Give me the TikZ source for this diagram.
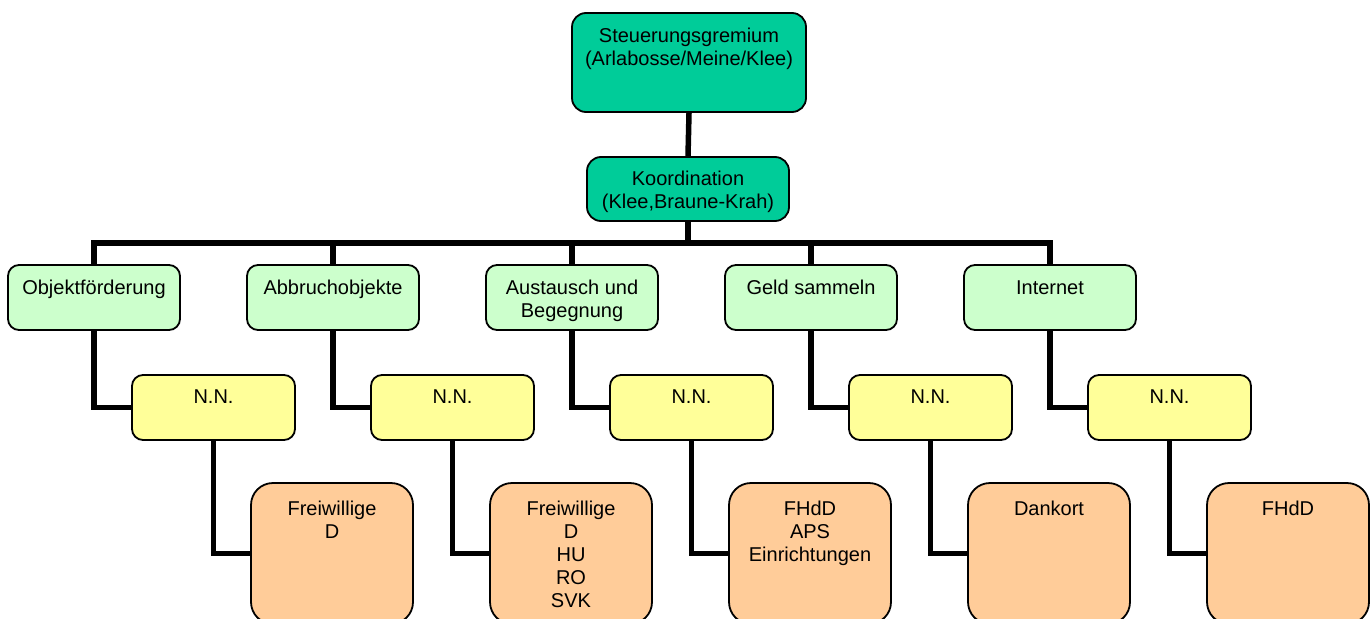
\documentclass[tikz,border=0pt]{standalone}
\usepackage{fontspec}
\setmainfont{Liberation Sans}
\usetikzlibrary{positioning}

\definecolor{leitgruen}{RGB}{0,204,153}
\definecolor{hellgruen}{RGB}{204,255,204}
\definecolor{hellgelb}{RGB}{255,255,153}
\definecolor{hellorange}{RGB}{255,204,153}

\begin{document}
\begin{tikzpicture}[
            x=1pt, y=-1pt,
            leitung/.style={
                rectangle,
                draw=black,
                fill=leitgruen,
                line width=1.8pt,
                rounded corners=14pt
            },
            bereich/.style={
                rectangle,
                draw=black,
                fill=hellgruen,
                line width=1.8pt,
                rounded corners=11pt,
                minimum width=172pt,
                minimum height=65pt
            },
            nn/.style={
                rectangle,
                draw=black,
                fill=hellgelb,
                line width=1.8pt,
                rounded corners=11pt,
                minimum width=163pt,
                minimum height=65pt
            },
            team/.style={
                rectangle,
                draw=black,
                fill=hellorange,
                line width=1.8pt,
                rounded corners=22pt,
                minimum width=162pt,
                minimum height=141pt
            },
            txt/.style={
                inner sep=0pt,
                align=center,
                font=\fontsize{20}{23}\selectfont
            },
            verbindung/.style={
                draw=black,
                line width=5.5pt
            }
        ]

        \useasboundingbox (0,0) rectangle (1372,618);

        % nodes
        \node[leitung, minimum width=234pt, minimum height=99pt] (sg) at (689,62.5) {};
        \node[txt, below=16pt of sg.north] (sgtext) {Steuerungsgremium\\(Arlabosse/Meine/Klee)};
        \node[leitung, minimum width=202pt, minimum height=64pt] (ko) at (688,189) {};
        \node[txt, below=15pt of ko.north] (kotext) {Koordination\\(Klee,Braune-Krah)};
        \coordinate (bus) at (688,243);

        \node[bereich] (of) at (94,297.5) {};
        \node[txt, below=16pt of of.north] (oftext) {Objektförderung};
        \node[bereich] (ab) at (333,297.5) {};
        \node[txt, below=16pt of ab.north] (abtext) {Abbruchobjekte};
        \node[bereich] (au) at (572,297.5) {};
        \node[txt, below=16pt of au.north] (autext) {Austausch und\\Begegnung};
        \node[bereich] (gs) at (811,297.5) {};
        \node[txt, below=16pt of gs.north] (gstext) {Geld sammeln};
        \node[bereich] (in) at (1050,297.5) {};
        \node[txt, below=16pt of in.north] (intext) {Internet};

        \node[nn] (nnof) at (213.5,407.5) {};
        \node[txt, below=15pt of nnof.north] (nnoftext) {N.N.};
        \node[nn] (nnab) at (452.5,407.5) {};
        \node[txt, below=15pt of nnab.north] (nnabtext) {N.N.};
        \node[nn] (nnau) at (691.5,407.5) {};
        \node[txt, below=15pt of nnau.north] (nnautext) {N.N.};
        \node[nn] (nngs) at (930.5,407.5) {};
        \node[txt, below=15pt of nngs.north] (nngstext) {N.N.};
        \node[nn] (nnin) at (1169.5,407.5) {};
        \node[txt, below=15pt of nnin.north] (nnintext) {N.N.};

        \node[team] (tof) at (332,553.5) {};
        \node[txt, below=19pt of tof.north] (toftext) {Freiwillige\\D};
        \node[team] (tab) at (571,553.5) {};
        \node[txt, below=19pt of tab.north] (tabtext) {Freiwillige\\D\\HU\\RO\\SVK};
        \node[team] (tau) at (810,553.5) {};
        \node[txt, below=19pt of tau.north] (tautext) {FHdD\\APS\\Einrichtungen};
        \node[team] (tgs) at (1049,553.5) {};
        \node[txt, below=19pt of tgs.north] (tgstext) {Dankort};
        \node[team] (tin) at (1288,553.5) {};
        \node[txt, below=19pt of tin.north] (tintext) {FHdD};

        % lines
        \draw[verbindung] (sg.south) -- (ko.north);
        \draw[verbindung] (ko.south) -- (bus);
        \draw[verbindung] (of.north) -- (of.north |- bus) -- (in.north |- bus) -- (in.north);
        \draw[verbindung] (ab.north) -- (ab.north |- bus);
        \draw[verbindung] (au.north) -- (au.north |- bus);
        \draw[verbindung] (gs.north) -- (gs.north |- bus);

        \draw[verbindung] (of.south) |- (nnof.west);
        \draw[verbindung] (ab.south) |- (nnab.west);
        \draw[verbindung] (au.south) |- (nnau.west);
        \draw[verbindung] (gs.south) |- (nngs.west);
        \draw[verbindung] (in.south) |- (nnin.west);

        \draw[verbindung] (nnof.south) |- (tof.west);
        \draw[verbindung] (nnab.south) |- (tab.west);
        \draw[verbindung] (nnau.south) |- (tau.west);
        \draw[verbindung] (nngs.south) |- (tgs.west);
        \draw[verbindung] (nnin.south) |- (tin.west);
    \end{tikzpicture}
\end{document}
